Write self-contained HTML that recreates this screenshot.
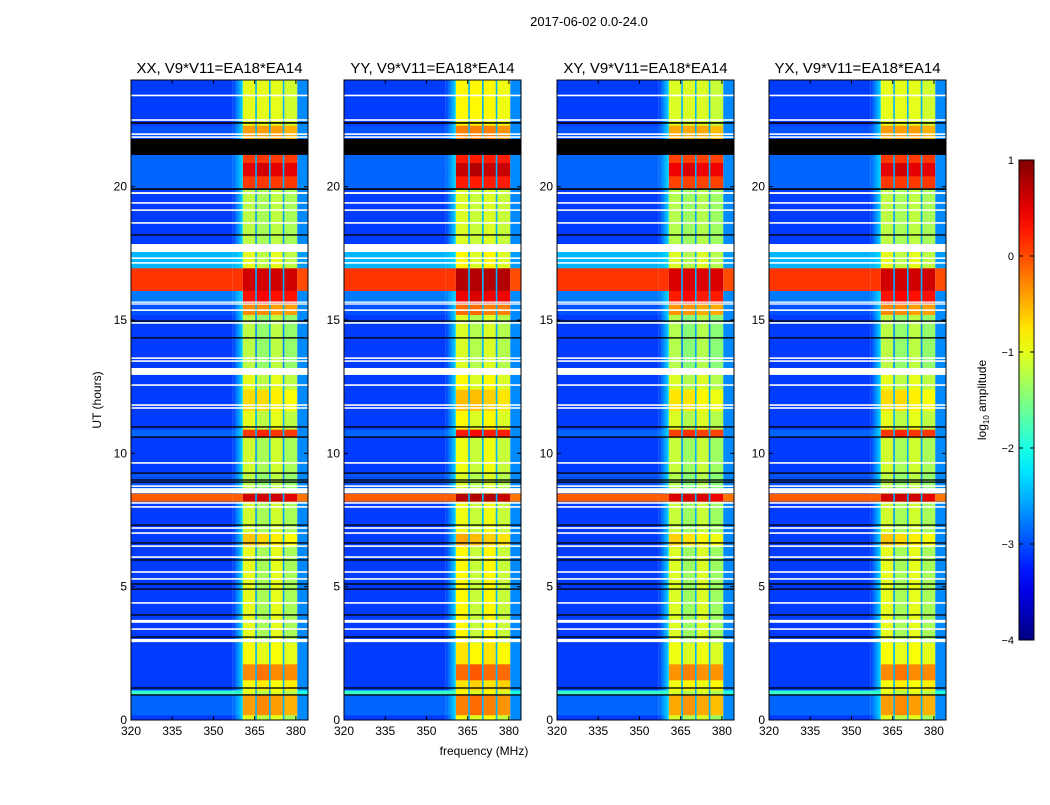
<!DOCTYPE html>
<html><head><meta charset="utf-8"><style>
body{margin:0;background:#fff;}
svg text{font-family:"Liberation Sans",sans-serif;fill:#000;}
</style></head><body>
<svg id="chart" width="1050" height="800" viewBox="0 0 1050 800" xmlns="http://www.w3.org/2000/svg">
<text x="589" y="26" font-size="13" text-anchor="middle">2017-06-02 0.0-24.0</text>
<text x="484" y="755" font-size="12" text-anchor="middle">frequency (MHz)</text>
<text transform="translate(101,400) rotate(-90)" font-size="12" text-anchor="middle">UT (hours)</text>
<g id="panels"></g>
<g id="cbar"></g>
</svg>
<script>
// ---- data ----
const panelTitles = ["XX, V9*V11=EA18*EA14","YY, V9*V11=EA18*EA14","XY, V9*V11=EA18*EA14","YX, V9*V11=EA18*EA14"];
const panelOffsets = [0, 0.15, -0.05, 0];
const xTicks = [320,335,350,365,380];
const yTicks = [0,5,10,15,20];
const cbarTicks = [1,0,-1,-2,-3,-4];
const subBands = [[360.7,365.5],[365.5,370.5],[370.5,375.5],[375.5,380.5]];
// time segments: [start h, end h, background log amp, band1..band4]
const segStart = [0,0.19,0.94,1.12,1.5,2.1,2.9,6.5,7.0,8.2,8.5,9.3,10.6,10.9,11.6,12.4,13.2,15.2,15.6,16.1,16.95,17.85,19.95,20.4,20.9,21.2,21.8,22.3];
const segEnd   = [0.19,0.94,1.12,1.5,2.1,2.9,6.5,7.0,8.2,8.5,9.3,10.6,10.9,11.6,12.4,13.2,15.2,15.6,16.1,16.95,17.85,19.95,20.4,20.9,21.2,21.8,22.3,24];
const segBg    = [-3.2,-3.0,-2.0,-3.2,-3.2,-3.2,-3.2,-3.2,-3.2,-0.2,-3.1,-3.2,-3.0,-3.2,-3.2,-3.2,-3.2,-3.1,-2.9,0.0,-2.6,-3.2,-3.0,-3.0,-3.0,-3.2,-3.1,-3.2];
const band1 = [-1.0,-0.4,-1.0,-0.9,-0.3,-0.9,-1.0,-0.6,-1.1,0.6,-1.2,-1.1,0.1,-1.0,-0.7,-1.0,-1.2,-0.3,0.3,0.6,-1.0,-1.2,0.1,0.5,0.1,-1.0,-0.4,-1.0];
const band2 = [-1.2,-0.3,-1.2,-0.8,-0.2,-1.0,-1.3,-0.7,-1.3,0.6,-1.4,-1.3,0.2,-1.2,-0.7,-1.2,-1.4,-0.3,0.4,0.6,-1.2,-1.3,0.1,0.6,0.1,-1.0,-0.4,-1.0];
const band3 = [-1.0,-0.4,-1.0,-0.9,-0.3,-0.9,-1.0,-0.8,-1.1,0.6,-1.2,-1.1,0.1,-1.0,-0.8,-1.0,-1.2,-0.4,0.3,0.6,-1.0,-1.2,0.1,0.5,0.1,-1.0,-0.4,-1.0];
const band4 = [-1.3,-0.5,-1.2,-0.8,-0.3,-1.0,-1.3,-0.9,-1.3,0.5,-1.4,-1.3,0.1,-1.2,-0.9,-1.2,-1.4,-0.4,0.3,0.6,-1.2,-1.3,0.1,0.5,0.1,-1.0,-0.5,-1.1];
// flagged (white) intervals: centre hour, width hours
const flagHour  = [23.42,22.5,21.97,21.86,19.76,19.39,19.12,18.64,17.7,17.32,17.14,15.67,15.6,15.37,14.89,13.57,13.46,13.07,12.56,11.81,11.7,9.64,8.77,8.6,8.14,7.99,7.2,7.01,6.52,6.11,5.55,5.29,4.39,3.7,3.41,2.98];
const flagWidth = [0.06,0.06,0.06,0.06,0.07,0.06,0.06,0.06,0.3,0.06,0.06,0.05,0.05,0.06,0.06,0.06,0.06,0.26,0.06,0.06,0.06,0.06,0.06,0.19,0.06,0.06,0.06,0.06,0.06,0.06,0.06,0.06,0.06,0.11,0.06,0.12];
// blank (black) intervals
const blankHour  = [22.39,21.49,19.91,18.19,14.96,14.33,10.99,10.61,9.26,9.0,8.92,7.31,6.64,6.0,5.1,4.91,3.94,3.11,1.2,0.94];
const blankWidth = [0.06,0.6,0.06,0.05,0.05,0.05,0.05,0.05,0.05,0.05,0.05,0.05,0.05,0.05,0.05,0.05,0.05,0.05,0.05,0.05];

// ---- helpers ----
const NS="http://www.w3.org/2000/svg";
function jet(v){
  let t=(v+4)/5; t=Math.max(0,Math.min(1,t));
  const c=x=>Math.max(0,Math.min(1,x));
  const r=c(1.5-Math.abs(4*t-3)), g=c(1.5-Math.abs(4*t-2)), b=c(1.5-Math.abs(4*t-1));
  return `rgb(${Math.round(r*255)},${Math.round(g*255)},${Math.round(b*255)})`;
}
function mk(tag,attrs,parent){const e=document.createElementNS(NS,tag);for(const k in attrs)e.setAttribute(k,attrs[k]);parent.appendChild(e);return e;}
const panelX=[131,344,557,769], PW=177, PT=80, PB=720, FMIN=320, FMAX=384.4, TMAX=24;
const panels=document.getElementById('panels');
const defs=mk('defs',{},document.getElementById('chart'));

panelTitles.forEach((title,p)=>{
  const x0=panelX[p];
  const fx=f=>x0+(f-FMIN)/(FMAX-FMIN)*PW;
  const ty=h=>PB-h/TMAX*(PB-PT);
  const off=panelOffsets[p];
  const g=mk('g',{},panels);
  
  
  const clipId='clip'+p;
  const cp=mk('clipPath',{id:clipId},defs); mk('rect',{x:x0,y:PT,width:PW,height:PB-PT},cp);
  const img=mk('g',{'clip-path':`url(#${clipId})`},g);
  const bands=[band1,band2,band3,band4];
  for(let i=0;i<segStart.length;i++){
    const y1=ty(segEnd[i]), y2=ty(segStart[i]), h=y2-y1+0.3;
    const bg=segBg[i];
    let r=mk('rect',{x:x0,y:y1,width:fx(357)-x0,height:h,fill:jet(bg+0.12)},img);
    
    
    const gid=`gr${p}_${i}`;
    const lg=mk('linearGradient',{id:gid,x1:0,x2:1,y1:0,y2:0},defs);
    mk('stop',{offset:0,'stop-color':jet(bg+0.12)},lg);
    mk('stop',{offset:1,'stop-color':jet(Math.max(bg+0.12,-2.3))},lg);
    mk('rect',{x:fx(357),y:y1,width:fx(360.7)-fx(357),height:h,fill:`url(#${gid})`},img);
    subBands.forEach((sb,k)=>{
      const v=bands[k][i]+off;
      const b=mk('rect',{x:fx(sb[0]),y:y1,width:fx(sb[1])-fx(sb[0]),height:h,fill:jet(v)},img);
      
      
      if(k>0) mk('rect',{x:fx(sb[0])-0.8,y:y1,width:1.6,height:h,fill:jet(Math.min(v,-1.2)-1.3)},img);
    });
    mk('rect',{x:fx(380.5),y:y1,width:fx(FMAX)-fx(380.5)+1,height:h,fill:jet(Math.max(bg,-2.7))},img);
  }
  flagHour.forEach((fh,i)=>{
    const r=mk('rect',{x:x0,y:ty(fh+flagWidth[i]/2),width:PW,height:flagWidth[i]/TMAX*(PB-PT),fill:'#fff'},img);
    
    
  });
  blankHour.forEach((bh,i)=>{
    const r=mk('rect',{x:x0,y:ty(bh+blankWidth[i]/2),width:PW,height:blankWidth[i]/TMAX*(PB-PT),fill:'#000'},img);
    
    
  });
  mk('rect',{x:x0,y:PT,width:PW,height:PB-PT,fill:'none',stroke:'#000','stroke-width':1},g);
  const t=mk('text',{x:x0+PW/2,y:73,'font-size':15,'text-anchor':'middle'},g);
  t.textContent=title;
  
  
  xTicks.forEach(v=>{
    const x=fx(v);
    mk('line',{x1:x,x2:x,y1:PB,y2:PB-4,stroke:'#000'},g);
    mk('line',{x1:x,x2:x,y1:PT,y2:PT+4,stroke:'#000'},g);
    const l=mk('text',{x:x,y:PB+15,'font-size':12,'text-anchor':'middle'},g);
    l.textContent=v;
    
    
  });
  yTicks.forEach(v=>{
    const y=ty(v);
    mk('line',{x1:x0,x2:x0+4,y1:y,y2:y,stroke:'#000'},g);
    mk('line',{x1:x0+PW,x2:x0+PW-4,y1:y,y2:y,stroke:'#000'},g);
    const l=mk('text',{x:x0-4,y:y+4,'font-size':12,'text-anchor':'end'},g);
    l.textContent=v;
    
    
  });
});

// colorbar
const cb=document.getElementById('cbar');


const CX=1019, CW=15, CT=160, CBt=640;
const cg=mk('linearGradient',{id:'cbgrad',x1:0,x2:0,y1:1,y2:0},defs);
for(let i=0;i<=20;i++){mk('stop',{offset:i/20,'stop-color':jet(-4+5*i/20)},cg);}
mk('rect',{x:CX,y:CT,width:CW,height:CBt-CT,fill:'url(#cbgrad)',stroke:'#000'},cb);
cbarTicks.forEach(v=>{
  const y=CBt-(v+4)/5*(CBt-CT);
  mk('line',{x1:CX,x2:CX+4,y1:y,y2:y,stroke:'#000'},cb);
  mk('line',{x1:CX+CW,x2:CX+CW-4,y1:y,y2:y,stroke:'#000'},cb);
  const l=mk('text',{x:CX-5,y:y+4,'font-size':11,'text-anchor':'end'},cb);
  l.textContent=v<0?'\u2212'+(-v):v;
  
  
});
const cl=mk('text',{transform:'translate(986,400) rotate(-90)','font-size':12,'text-anchor':'middle'},cb);
cl.innerHTML='log<tspan font-size="8" dy="3">10</tspan><tspan dy="-3"> amplitude</tspan>';


</script>
</body></html>
